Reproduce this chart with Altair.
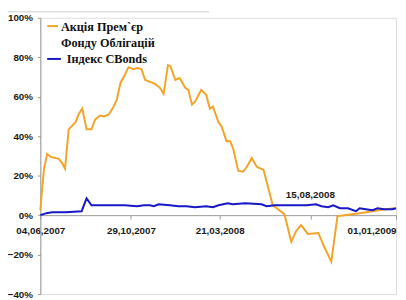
import altair as alt
import pandas as pd

# ---- data ----
START = "2007-06-04"
orange_days = [0, 3, 6, 11, 17, 24, 30, 35, 40, 46, 49, 57, 62, 68, 75, 83, 89, 97, 103, 111,
               118, 124, 130, 137, 143, 151, 157, 164, 170, 178, 186, 194, 200, 207, 211, 219,
               226, 235, 240, 246, 251, 261, 269, 275, 280, 289, 294, 302, 308, 313, 321, 329,
               335, 343, 351, 362, 377, 396, 407, 415, 423, 434, 451, 459, 472, 482, 494, 518,
               539, 560, 575]
orange_vals = [2.5, 13.5, 23.5, 31, 29.5, 29, 28.5, 26.5, 23.5, 43.5, 44.5, 47, 51, 54, 43.5,
               43.5, 48.5, 50.5, 50, 51, 54.5, 58.5, 67, 71, 75, 74, 74.5, 74, 68.5, 67.5, 66.5,
               64.5, 61.5, 76, 75.5, 68.5, 69.5, 64.5, 63.5, 56, 57.5, 63.5, 61, 54, 55, 47, 45,
               37.5, 37.5, 33.5, 22.5, 22, 24.5, 29, 24.5, 23, 5, 0.5, -13.5, -8, -5, -9.5, -9,
               -15, -23.5, -0.5, 0, 1, 2, 3, 3.5]
blue_days = [0, 10, 19, 41, 67, 75, 83, 105, 121, 137, 157, 168, 178, 184, 192, 210, 224, 237,
             251, 269, 280, 289, 304, 312, 332, 359, 367, 380, 412, 432, 447, 456, 467, 475,
             486, 499, 512, 518, 528, 539, 547, 558, 571, 577]
blue_vals = [0, 1, 1.5, 1.5, 2, 8.5, 5, 5, 5, 5, 4.5, 5, 5, 4.5, 5.5, 5, 4.5, 4.5, 4, 4.5, 4,
             5, 6, 5.5, 6, 5.5, 4.5, 5, 5, 5, 5.5, 4.5, 4, 5, 3.5, 3.5, 2, 3.5, 3, 2.5, 3.5, 3,
             3, 3.5]
series_names = ["Акція Прем`єр Фонду Облігацій", "Індекс CBonds"]
legend_lines = ["Акція Прем`єр", "Фонду Облігацій", "Індекс CBonds"]
x_ticks = ["2007-06-04", "2007-10-29", "2008-03-21", "2008-08-15", "2009-01-01"]
y_ticks = [-0.4, -0.2, 0, 0.2, 0.4, 0.6, 0.8, 1.0]
annot_label = ["15,08,2008"]
annot_pos = [("2008-08-15", 0.10)]

ORANGE = "#F2A428"
BLUE = "#1818C8"
AX_FONT = "Liberation Sans"
LEG_FONT = "Liberation Serif"

start = pd.Timestamp(START)


def frame(days, vals, name):
    return pd.DataFrame({
        "date": [start + pd.Timedelta(days=d) for d in days],
        "value": [v / 100 for v in vals],
        "series": name,
    })


df_o = frame(orange_days, orange_vals, series_names[0])
df_b = frame(blue_days, blue_vals, series_names[1])

x_scale = alt.Scale(domain=[START, "2009-01-01"], type="time")
y_scale = alt.Scale(domain=[-0.4, 1.0], nice=False, zero=False)

x_enc = alt.X(
    "date:T", scale=x_scale, title=None,
    axis=alt.Axis(values=[pd.Timestamp(v).isoformat() for v in x_ticks], format="%d,%m,%Y",
                  labelExpr="timeFormat(datum.value, '%d,%m') == '15,08' ? '' : datum.label",
                  labelAlign={"condition": {"test": "timeFormat(datum.value, '%Y') == '2009'",
                                            "value": "right"}, "value": "center"},
                  offset=-80.6, grid=False, domainColor="#999999", tickColor="#999999",
                  tickSize=4, labelPadding=7, labelFont=AX_FONT, labelFontSize=10,
                  labelFontWeight="bold", labelColor="#1a1a1a", labelFlush=False,
                  labelOverlap=False),
)
y_enc = alt.Y(
    "value:Q", scale=y_scale, title=None,
    axis=alt.Axis(values=y_ticks, format=".0%", grid=False, domainColor="#999999",
                  tickColor="#999999", tickSize=3, labelPadding=5, labelFont=AX_FONT,
                  labelFontSize=10, labelFontWeight="bold", labelColor="#1a1a1a"),
)

line_o = alt.Chart(df_o).mark_line(color=ORANGE, strokeWidth=2).encode(x=x_enc, y=y_enc)
line_b = alt.Chart(df_b).mark_line(color=BLUE, strokeWidth=2).encode(x="date:T", y="value:Q")

annot = alt.Chart(pd.DataFrame({
    "date": [pd.Timestamp(p[0]) for p in annot_pos],
    "value": [p[1] for p in annot_pos],
    "label": annot_label,
})).mark_text(font=AX_FONT, fontSize=10, fontWeight="bold", color="#1a1a1a").encode(
    x="date:T", y="value:Q", text="label:N")


def legend_text(label, x, y):
    return alt.Chart(pd.DataFrame({"label": [label]})).mark_text(
        font=LEG_FONT, fontSize=12.5, fontWeight="bold", align="left", baseline="middle",
        color="#111111").encode(x=alt.value(x), y=alt.value(y), text="label:N")


def legend_rule(color, x1, x2, y):
    return alt.Chart(pd.DataFrame({"k": [0]})).mark_rule(color=color, strokeWidth=2).encode(
        x=alt.value(x1), x2=alt.value(x2), y=alt.value(y))


top_line = alt.Chart(pd.DataFrame({"k": [0]})).mark_rule(color="#dddddd", strokeWidth=1.5).encode(
    x=alt.value(-33), x2=alt.value(172), y=alt.value(-6.2))

chart = alt.layer(
    line_o, line_b, annot,
    legend_rule(ORANGE, 7, 18, 8.5), legend_text(legend_lines[0], 21, 9),
    legend_text(legend_lines[1], 21, 26),
    legend_rule(BLUE, 7, 21, 42), legend_text(legend_lines[2], 27, 42),
    top_line,
).properties(
    width=363, height=282,
    autosize=alt.AutoSizeParams(type="none"),
    padding={"left": 33, "top": 7, "right": 2, "bottom": 2},
).configure_view(stroke="#c8c8c8", strokeWidth=1).configure(background="white")

chart.save("out.html", embed_options={"renderer": "svg", "actions": False})
